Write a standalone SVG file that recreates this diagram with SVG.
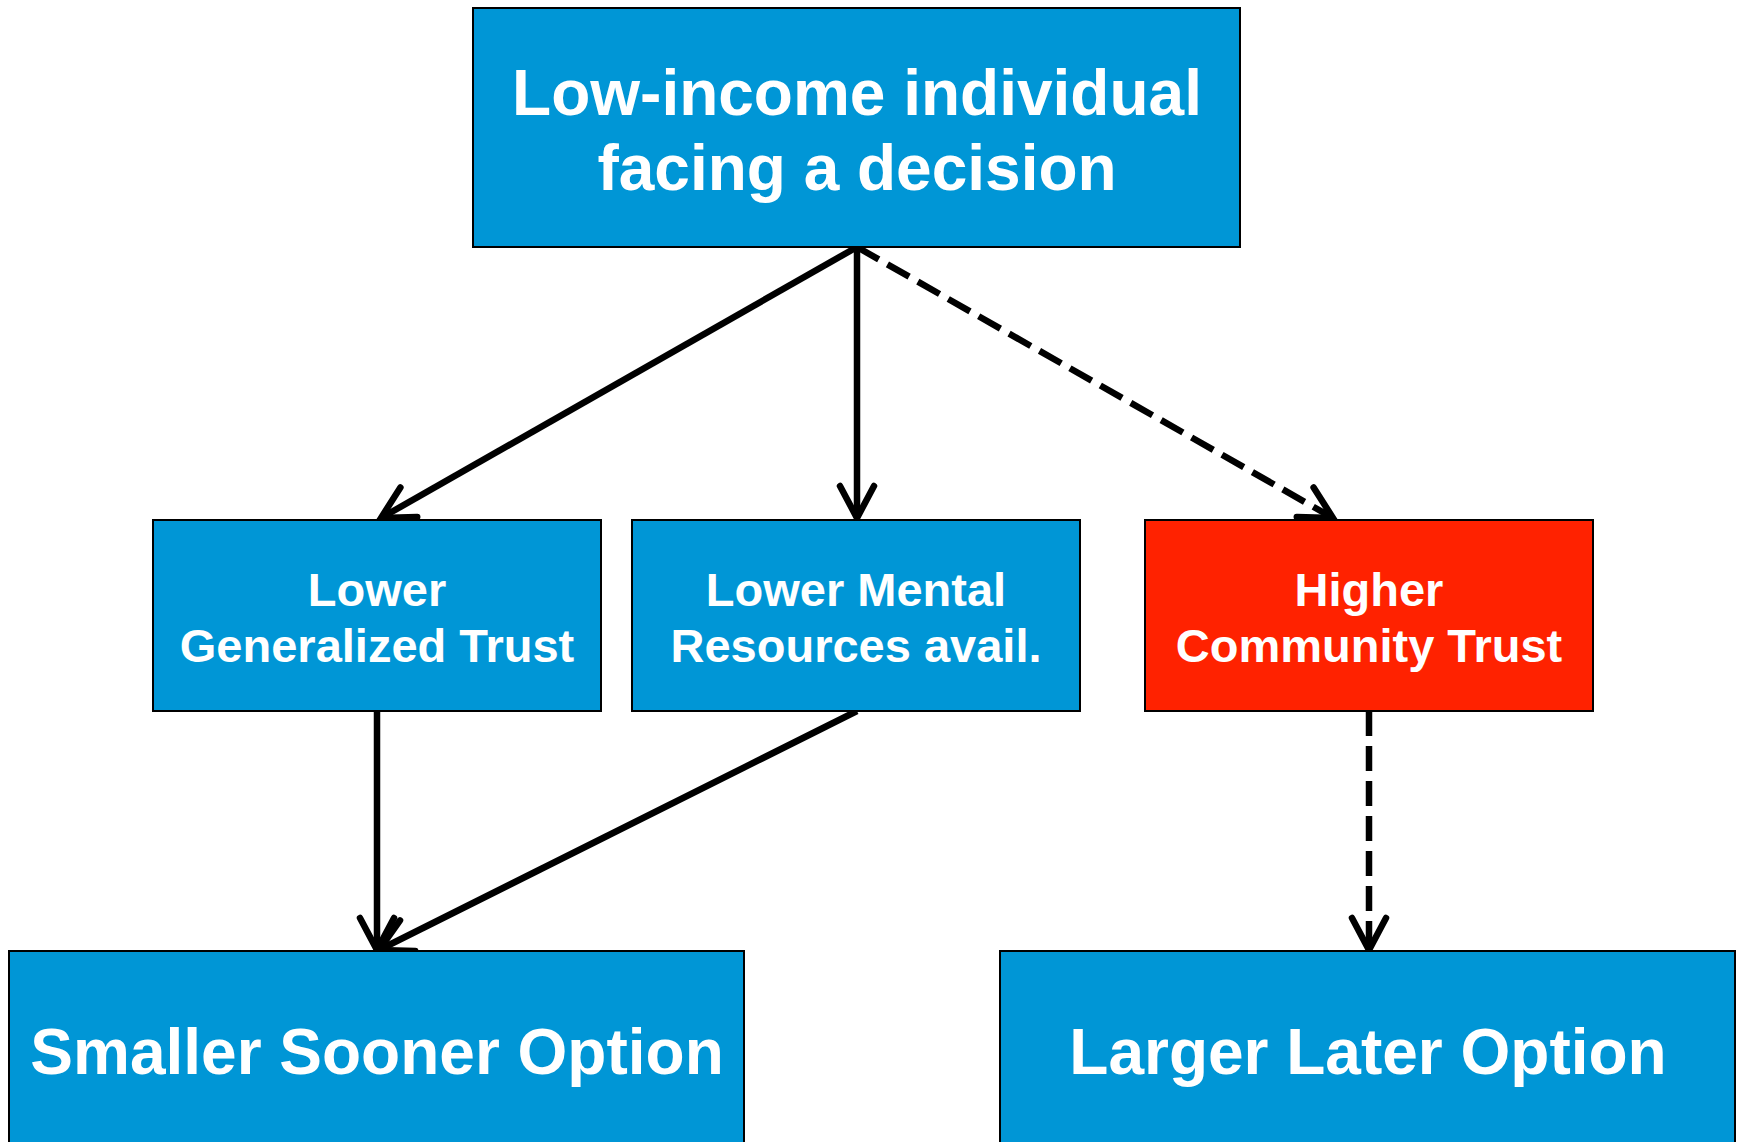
<svg xmlns="http://www.w3.org/2000/svg" width="1739" height="1142" viewBox="0 0 1739 1142">
<style>
.box{fill:#0096d6;stroke:#000;stroke-width:2}
.red{fill:#ff2200;stroke:#000;stroke-width:2}
.t{font-family:"Liberation Sans",Arial,sans-serif;font-weight:bold;fill:#fff;text-anchor:middle}
.big{font-size:64px}
.mid{font-size:47px}
.c{stroke:#000;stroke-width:6.5;fill:none;marker-end:url(#ah)}
.d{stroke-dasharray:25 10}
</style>
<defs>
<marker id="ah" markerUnits="userSpaceOnUse" markerWidth="80" markerHeight="80" viewBox="-40 -40 80 80" refX="0" refY="0" orient="auto" overflow="visible">
<path d="M -32 -17 L 0 0 L -32 17" fill="none" stroke="#000" stroke-width="6.5" stroke-linecap="round" stroke-linejoin="miter" stroke-dasharray="none"/>
</marker>
</defs>
<rect width="1739" height="1142" fill="#fff"/>
<g id="connectors">
<line class="c" x1="857" y1="247" x2="381" y2="518"/>
<line class="c" x1="857" y1="247" x2="857" y2="518"/>
<line class="c d" x1="857" y1="247" x2="1333" y2="518"/>
<line class="c" x1="377" y1="711" x2="377" y2="950"/>
<line class="c" x1="857" y1="711" x2="379" y2="950"/>
<line class="c d" x1="1369" y1="711" x2="1369" y2="950"/>
</g>
<g id="n-top">
<rect class="box" x="473" y="8" width="767" height="239"/>
<text class="t big" x="857" y="115">Low-income individual</text>
<text class="t big" x="857" y="190">facing a decision</text>
</g>
<g id="n-gen">
<rect class="box" x="153" y="520" width="448" height="191"/>
<text class="t mid" x="377" y="606">Lower</text>
<text class="t mid" x="377" y="662">Generalized Trust</text>
</g>
<g id="n-mental">
<rect class="box" x="632" y="520" width="448" height="191"/>
<text class="t mid" x="856" y="606">Lower Mental</text>
<text class="t mid" x="856" y="662">Resources avail.</text>
</g>
<g id="n-community">
<rect class="red" x="1145" y="520" width="448" height="191"/>
<text class="t mid" x="1369" y="606">Higher</text>
<text class="t mid" x="1369" y="662">Community Trust</text>
</g>
<g id="n-sooner">
<rect class="box" x="9" y="951" width="735" height="200"/>
<text class="t big" x="377" y="1074">Smaller Sooner Option</text>
</g>
<g id="n-later">
<rect class="box" x="1000" y="951" width="735" height="200"/>
<text class="t big" x="1368" y="1074">Larger Later Option</text>
</g>
</svg>
